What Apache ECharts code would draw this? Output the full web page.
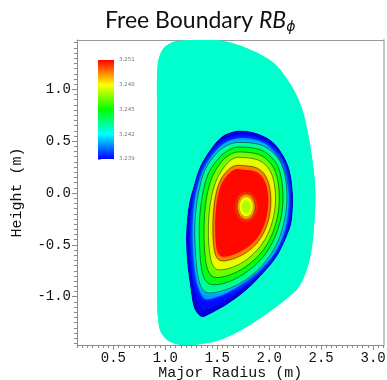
<!DOCTYPE html>
<html><head><meta charset="utf-8">
<script src="https://cdn.jsdelivr.net/npm/echarts@6/dist/echarts.min.js"></script>
<style>html,body{margin:0;padding:0;background:#fff}#chart{width:387px;height:380px}</style>
</head><body><div id="chart"></div>
<script>
// ---------------- data ----------------
const xTickLabels = [0.5, 1.0, 1.5, 2.0, 2.5, 3.0];
const yTickLabels = [-1.0, -0.5, 0.0, 0.5, 1.0];
const colorbarTicks = [3.239, 3.242, 3.245, 3.248, 3.251];

// vacuum region (constant RB_phi)
const vacuumValue = 3.2426;
const vacuumBoundary = [[1.027,1.432],[1.171,1.470],[1.528,1.470],[1.817,1.383],[2.039,1.258],[2.174,1.094],[2.270,0.929],[2.328,0.775],[2.366,0.611],[2.411,0.350],[2.443,0.032],[2.434,-0.287],[2.395,-0.615],[2.299,-0.885],[2.154,-1.030],[1.990,-1.155],[1.769,-1.300],[1.528,-1.416],[1.287,-1.464],[1.094,-1.454],[0.979,-1.377],[0.931,-1.223],[0.921,-0.837],[0.921,-0.065],[0.921,0.707],[0.921,1.142],[0.950,1.335]];

// plasma level surfaces (R, Z)
const plasmaBoundary = [[1.689,0.601],[1.849,0.585],[2.010,0.514],[2.122,0.386],[2.196,0.225],[2.228,0.000],[2.219,-0.258],[2.170,-0.419],[2.074,-0.612],[1.945,-0.772],[1.785,-0.933],[1.592,-1.078],[1.400,-1.184],[1.352,-1.197],[1.319,-1.175],[1.271,-1.095],[1.239,-0.901],[1.207,-0.644],[1.200,-0.386],[1.223,-0.129],[1.271,0.064],[1.335,0.257],[1.432,0.418],[1.544,0.546]];
const blueLayer = [[1.701,0.568],[1.846,0.553],[2.000,0.486],[2.101,0.361],[2.169,0.206],[2.198,-0.007],[2.188,-0.258],[2.140,-0.412],[2.048,-0.596],[1.923,-0.750],[1.769,-0.900],[1.586,-1.035],[1.412,-1.122],[1.364,-1.126],[1.335,-1.097],[1.297,-1.020],[1.268,-0.885],[1.239,-0.634],[1.234,-0.383],[1.253,-0.132],[1.297,0.051],[1.359,0.239],[1.451,0.394],[1.557,0.514]];
const lightBlueLayer = [[1.711,0.529],[1.865,0.514],[1.986,0.457],[2.087,0.336],[2.149,0.186],[2.185,-0.016],[2.173,-0.248],[2.130,-0.422],[2.039,-0.596],[1.913,-0.736],[1.759,-0.861],[1.576,-0.972],[1.422,-1.025],[1.364,-1.011],[1.326,-0.933],[1.297,-0.827],[1.273,-0.625],[1.263,-0.393],[1.273,-0.152],[1.306,0.042],[1.369,0.225],[1.461,0.375],[1.576,0.486]];
const contour1 = [[1.720,0.488],[1.913,0.466],[2.058,0.370],[2.138,0.225],[2.170,0.000],[2.154,-0.226],[2.090,-0.451],[1.978,-0.644],[1.817,-0.805],[1.624,-0.917],[1.432,-0.965],[1.352,-0.917],[1.309,-0.772],[1.287,-0.515],[1.287,-0.258],[1.319,0.000],[1.383,0.225],[1.496,0.386],[1.608,0.466]];
const contour2 = [[1.720,0.444],[1.913,0.418],[2.036,0.328],[2.106,0.193],[2.132,-0.016],[2.116,-0.226],[2.051,-0.434],[1.945,-0.612],[1.791,-0.756],[1.618,-0.853],[1.464,-0.885],[1.383,-0.837],[1.345,-0.708],[1.329,-0.483],[1.329,-0.258],[1.358,-0.016],[1.416,0.193],[1.518,0.338],[1.618,0.418]];
const contour3 = [[1.720,0.396],[1.897,0.373],[2.010,0.290],[2.074,0.160],[2.097,-0.033],[2.080,-0.226],[2.019,-0.419],[1.920,-0.579],[1.778,-0.708],[1.624,-0.789],[1.489,-0.815],[1.424,-0.772],[1.389,-0.660],[1.373,-0.451],[1.376,-0.241],[1.399,-0.033],[1.453,0.160],[1.544,0.305],[1.631,0.376]];
const contour4 = [[1.720,0.344],[1.887,0.321],[1.987,0.247],[2.041,0.128],[2.061,-0.048],[2.041,-0.232],[1.983,-0.403],[1.887,-0.547],[1.759,-0.660],[1.624,-0.724],[1.512,-0.740],[1.458,-0.699],[1.429,-0.596],[1.415,-0.419],[1.419,-0.226],[1.445,-0.033],[1.496,0.135],[1.576,0.264],[1.647,0.328]];
const contour5 = [[1.720,0.266],[1.866,0.247],[1.952,0.183],[2.000,0.070],[2.016,-0.081],[1.997,-0.241],[1.945,-0.386],[1.858,-0.509],[1.743,-0.596],[1.624,-0.644],[1.535,-0.653],[1.490,-0.612],[1.467,-0.515],[1.458,-0.354],[1.464,-0.178],[1.490,0.000],[1.538,0.135],[1.608,0.225],[1.666,0.261]];
const redCore = [[1.725,0.228],[1.858,0.210],[1.935,0.152],[1.978,0.050],[1.992,-0.088],[1.973,-0.236],[1.924,-0.370],[1.842,-0.483],[1.733,-0.560],[1.624,-0.604],[1.544,-0.612],[1.505,-0.574],[1.486,-0.485],[1.479,-0.336],[1.485,-0.174],[1.510,-0.008],[1.555,0.114],[1.620,0.195],[1.672,0.227]];
const islandLine = [[1.778,-0.007],[1.840,-0.044],[1.866,-0.133],[1.840,-0.222],[1.778,-0.259],[1.716,-0.222],[1.690,-0.133],[1.716,-0.044]];
const islandRing = [[1.778,-0.041],[1.822,-0.068],[1.840,-0.133],[1.822,-0.198],[1.778,-0.225],[1.734,-0.198],[1.716,-0.133],[1.734,-0.068]];
const islandCore = [[1.778,-0.078],[1.803,-0.094],[1.813,-0.133],[1.803,-0.172],[1.778,-0.188],[1.753,-0.172],[1.743,-0.133],[1.753,-0.094]];

const fillSurfaces = [plasmaBoundary, blueLayer, lightBlueLayer, contour1, contour2, contour3, contour4, contour5, redCore, islandLine, islandRing, islandCore];
const fillValues   = [3.2380, 3.2391, 3.2407, 3.2432, 3.2447, 3.2462, 3.2477, 3.2494, 3.2509, 3.2494, 3.2480, 3.2470];
const contourLines = [contour1, contour2, contour3, contour4, contour5, islandLine];

// ---------------- styling ----------------
const cmapStops = [[3.236,[0,0,128]],[3.239,[0,0,255]],[3.242,[0,255,255]],[3.245,[0,255,0]],[3.248,[255,255,0]],[3.251,[255,0,0]]];
function colorOf(v){
  if (v <= cmapStops[0][0]) return 'rgb(' + cmapStops[0][1].join(',') + ')';
  for (let i = 1; i < cmapStops.length; i++){
    if (v <= cmapStops[i][0]){
      const a = cmapStops[i-1], b = cmapStops[i];
      const t = (v - a[0]) / (b[0] - a[0]);
      const c = a[1].map((x, k) => Math.round(x + (b[1][k] - x) * t));
      return 'rgb(' + c.join(',') + ')';
    }
  }
  return 'rgb(' + cmapStops[cmapStops.length-1][1].join(',') + ')';
}
const glowBlur = [0, 4, 5, 6, 4, 4, 4, 5, 5, 3, 3, 3];

function pathFrom(pts, api, reverse){
  const p = pts.map(q => api.coord(q));
  if (reverse) p.reverse();
  const n = p.length, f = v => v.toFixed(2);
  let d = 'M' + f(p[0][0]) + ' ' + f(p[0][1]);
  for (let i = 0; i < n; i++){
    const p0 = p[(i-1+n)%n], p1 = p[i], p2 = p[(i+1)%n], p3 = p[(i+2)%n];
    const c1x = p1[0] + (p2[0]-p0[0])/6, c1y = p1[1] + (p2[1]-p0[1])/6;
    const c2x = p2[0] - (p3[0]-p1[0])/6, c2y = p2[1] - (p3[1]-p1[1])/6;
    d += ' C' + [c1x,c1y,c2x,c2y,p2[0],p2[1]].map(f).join(' ');
  }
  return d + ' Z';
}

const xMinor = []; for (let k = 3; k <= 62; k++) xMinor.push(+(k*0.05).toFixed(2));
const yMinor = []; for (let k = -29; k <= 29; k++) yMinor.push(+(k*0.05).toFixed(2));

const AX = '#8a8a8a';
const mono = 'Liberation Mono';
function baseX(extra){ return Object.assign({gridIndex:0, type:'value', min:0.15, max:3.10, splitLine:{show:false}}, extra); }
function baseY(extra){ return Object.assign({gridIndex:0, type:'value', min:-1.466, max:1.476, splitLine:{show:false}}, extra); }

const chart = echarts.init(document.getElementById('chart'), null, {renderer:'canvas'});
chart.setOption({
  animation: false,
  backgroundColor: '#ffffff',
  title: {
    text: '{a|Free Boundary }{b|RB}{c|ϕ}',
    left: 100, top: 3,
    textStyle: { fontWeight:'normal', rich: {
      a: {fontFamily:'Lato', fontWeight:'normal', fontSize:23, color:'#111'},
      b: {fontFamily:'Lato', fontWeight:'normal', fontStyle:'italic', fontSize:23, color:'#111'},
      c: {fontFamily:'DejaVu Sans', fontWeight:'normal', fontStyle:'italic', fontSize:14, color:'#111', padding:[12,0,0,0]}
    }}
  },
  grid: [
    {left:77, top:40, width:306.5, height:305, outerBoundsMode:'none', containLabel:false},
    {left:98, top:60, width:16, height:99, outerBoundsMode:'none', containLabel:false}
  ],
  xAxis: [
    baseX({position:'bottom', axisLine:{show:true, onZero:false, lineStyle:{color:AX, width:1}},
      axisTick:{show:true, customValues:xTickLabels, length:5, lineStyle:{color:AX}},
      axisLabel:{customValues:xTickLabels, formatter:v=>v.toFixed(1), fontFamily:mono, fontSize:14, color:'#111', margin:6},
      name:'Major Radius (m)', nameLocation:'middle', nameGap:21, nameMoveOverlap:false,
      nameTextStyle:{fontFamily:mono, fontSize:15, color:'#111'}}),
    baseX({position:'bottom', axisLine:{show:false, onZero:false},
      axisTick:{show:true, customValues:xMinor, length:3, lineStyle:{color:AX}}, axisLabel:{show:false}}),
    baseX({position:'top', axisLine:{show:true, onZero:false, lineStyle:{color:'#999', width:1}},
      axisTick:{show:false}, axisLabel:{show:false}}),
    {gridIndex:1, type:'value', min:0, max:1, show:false}
  ],
  yAxis: [
    baseY({position:'left', axisLine:{show:true, onZero:false, lineStyle:{color:AX, width:1}},
      axisTick:{show:true, customValues:yTickLabels, length:5, lineStyle:{color:AX}},
      axisLabel:{customValues:yTickLabels, formatter:v=>v.toFixed(1), fontFamily:mono, fontSize:14, color:'#111', margin:6},
      name:'Height (m)', nameLocation:'middle', nameGap:52, nameRotate:90, nameMoveOverlap:false,
      nameTextStyle:{fontFamily:mono, fontSize:15, color:'#111'}}),
    baseY({position:'left', axisLine:{show:false, onZero:false},
      axisTick:{show:true, customValues:yMinor, length:3, lineStyle:{color:AX}}, axisLabel:{show:false}}),
    baseY({position:'right', axisLine:{show:true, onZero:false, lineStyle:{color:'#c6c6c6', width:2}},
      axisTick:{show:false}, axisLabel:{show:false}}),
    {gridIndex:1, type:'value', min:3.239, max:3.251, position:'right',
      axisLine:{show:false}, splitLine:{show:false},
      axisTick:{show:true, customValues:colorbarTicks, length:3, lineStyle:{color:'#9a9a9a'}},
      axisLabel:{customValues:colorbarTicks, formatter:v=>v.toFixed(3), fontFamily:'DejaVu Sans', fontSize:5.5, color:'#777', margin:5}}
  ],
  series: [
    { // vacuum + plasma filled level surfaces
      type:'custom', xAxisIndex:0, yAxisIndex:0, z:1, silent:true, clip:true,
      data: [[vacuumBoundary[0][0], vacuumBoundary[0][1], vacuumValue]].concat(fillSurfaces.map((s,i)=>[s[0][0], s[0][1], fillValues[i]])),
      renderItem: function(params, api){
        const i = params.dataIndex;
        if (i === 0) return {type:'path', shape:{pathData:pathFrom(vacuumBoundary, api)}, style:{fill:colorOf(vacuumValue)}};
        const k = i - 1, v = fillValues[k];
        const st = {fill: colorOf(v)};
        if (glowBlur[k] > 0){ st.shadowBlur = glowBlur[k]; st.shadowColor = colorOf(v - 0.0010); }
        return {type:'path', shape:{pathData:pathFrom(fillSurfaces[k], api)}, style: st};
      }
    },
    { // vacuum ring drawn over any glow that leaks past the plasma edge
      type:'custom', xAxisIndex:0, yAxisIndex:0, z:2, silent:true, clip:true,
      data: [[vacuumBoundary[0][0], vacuumBoundary[0][1], vacuumValue]],
      renderItem: function(params, api){
        return {type:'path', shape:{pathData: pathFrom(vacuumBoundary, api) + ' ' + pathFrom(plasmaBoundary, api, true)}, style:{fill:colorOf(vacuumValue)}};
      }
    },
    { // black contour lines
      type:'custom', xAxisIndex:0, yAxisIndex:0, z:3, silent:true, clip:true,
      data: contourLines.map(s => [s[0][0], s[0][1]]),
      renderItem: function(params, api){
        return {type:'path', shape:{pathData:pathFrom(contourLines[params.dataIndex], api)},
          style:{fill:'none', stroke:'rgba(0,0,0,0.6)', lineWidth:0.8}};
      }
    },
    { // colour bar
      type:'custom', xAxisIndex:3, yAxisIndex:3, z:4, silent:true,
      data: [[0, colorbarTicks[colorbarTicks.length-1]]],
      renderItem: function(params, api){
        const tl = api.coord([0, colorbarTicks[colorbarTicks.length-1]]);
        const br = api.coord([1, colorbarTicks[0]]);
        const stops = colorbarTicks.slice().reverse().map((v, i, a) => ({offset: i/(a.length-1), color: colorOf(v)}));
        return {type:'rect', shape:{x:tl[0], y:tl[1], width:br[0]-tl[0], height:br[1]-tl[1]},
          style:{fill:{type:'linear', x:0, y:0, x2:0, y2:1, colorStops:stops}}};
      }
    }
  ]
});
</script></body></html>
